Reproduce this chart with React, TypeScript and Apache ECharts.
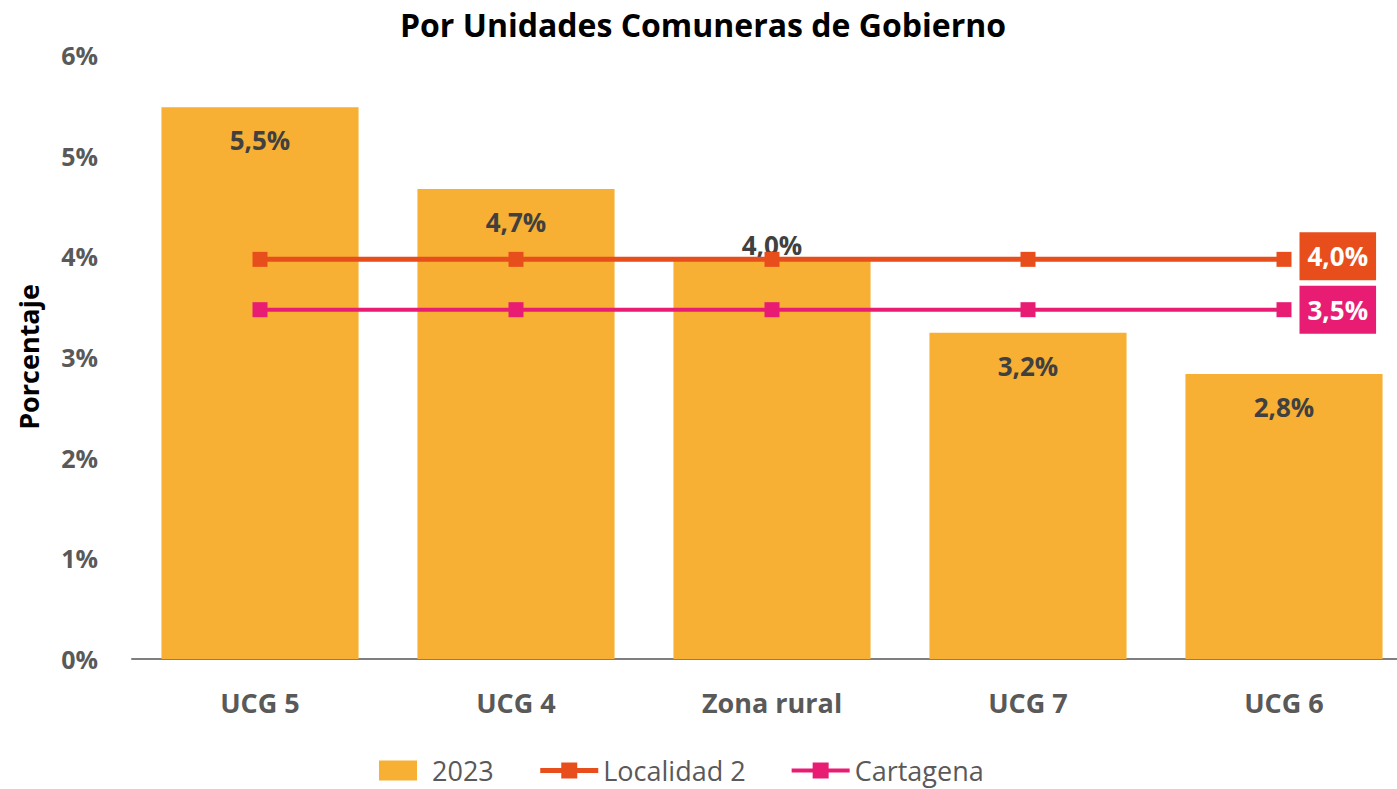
import React, { useEffect, useRef } from "react";
import * as echarts from "echarts";

const categories = ["UCG 5", "UCG 4", "Zona rural", "UCG 7", "UCG 6"];
const values2023 = [5.48, 4.67, 3.98, 3.24, 2.83];
const localidad2 = [3.97, 3.97, 3.97, 3.97, 3.97];
const cartagena = [3.47, 3.47, 3.47, 3.47, 3.47];
const yTicks = [0, 1, 2, 3, 4, 5, 6];

const FONT = "'Open Sans', Inter, sans-serif";
const fmt = (v: number) => v.toFixed(1).replace(".", ",") + "%";

export default function App() {
  const ref = useRef<HTMLDivElement>(null);
  useEffect(() => {
    document.body.style.margin = "0";
    const chart = echarts.init(ref.current!, null, { renderer: "svg" });
    const barData = values2023.map((v, i) =>
      i === 2
        ? { value: v, label: { position: "top", distance: 0 } }
        : { value: v }
    );
    const lineData = (arr: number[], color: string, dy: number) =>
      arr.map((v, i) =>
        i === arr.length - 1
          ? {
              value: v,
              label: {
                show: true,
                position: "right",
                distance: 8,
                offset: [0, dy],
                formatter: (p: any) => fmt(p.value),
                color: "#fff",
                fontFamily: FONT,
                fontWeight: "bold",
                fontSize: 26,
                backgroundColor: color,
                padding: [12, 8, 10, 8],
              },
            }
          : { value: v }
      );
    chart.setOption({
      animation: false,
      title: {
        text: "Por Unidades Comuneras de Gobierno",
        left: 698,
        textAlign: "center",
        top: 3,
        textStyle: { fontFamily: FONT, fontWeight: "bold", fontSize: 32, color: "#000", letterSpacing: 1.5 },
      },
      grid: { left: 132, right: 0, top: 55, bottom: 130 },
      legend: {
        bottom: 0,
        left: 374,
        itemWidth: 58,
        itemHeight: 20,
        itemGap: 44,
        textStyle: { fontFamily: FONT, fontSize: 27, color: "#595959", letterSpacing: 1 },
        data: [
          { name: "2023", icon: "path://M0,0H38V20H0Z" },
          { name: "Localidad 2", lineStyle: { width: 5 } },
          { name: "Cartagena", lineStyle: { width: 4 } },
        ],
      },
      xAxis: {
        type: "category",
        data: categories,
        axisLine: { lineStyle: { color: "#7f7f7f", width: 2 } },
        axisTick: { show: false },
        axisLabel: {
          margin: 30,
          fontFamily: FONT,
          fontWeight: "bold",
          fontSize: 27,
          color: "#595959",
        },
      },
      yAxis: {
        type: "value",
        min: 0,
        max: 6,
        interval: 1,
        name: "Porcentaje",
        nameLocation: "middle",
        nameGap: 90,
        nameTextStyle: { fontFamily: FONT, fontWeight: "bold", fontSize: 27, color: "#000" },
        splitLine: { show: false },
        axisLine: { show: false },
        axisTick: { show: false },
        axisLabel: {
          margin: 34,
          fontFamily: FONT,
          fontWeight: "bold",
          fontSize: 25,
          color: "#595959",
          formatter: (v: number) => (yTicks.includes(v) ? v + "%" : ""),
        },
      },
      series: [
        {
          name: "2023",
          type: "bar",
          data: barData,
          barWidth: "77%",
          itemStyle: { color: "#F7B034" },
          label: {
            show: true,
            position: "insideTop",
            distance: 20,
            formatter: (p: any) => fmt(p.value),
            fontFamily: FONT,
            fontWeight: "bold",
            fontSize: 26,
            color: "#404040",
          },
        },
        {
          name: "Localidad 2",
          type: "line",
          data: lineData(localidad2, "#E84E1C", -3),
          symbol: "rect",
          symbolSize: 15,
          lineStyle: { color: "#E84E1C", width: 5 },
          itemStyle: { color: "#E84E1C" },
          z: 3,
        },
        {
          name: "Cartagena",
          type: "line",
          data: lineData(cartagena, "#E91C74", 0),
          symbol: "rect",
          symbolSize: 15,
          lineStyle: { color: "#E91C74", width: 4 },
          itemStyle: { color: "#E91C74" },
          z: 3,
        },
      ],
    });
    return () => chart.dispose();
  }, []);
  return (
    <div style={{ width: 1397, height: 789, overflow: "hidden" }}>
      <div ref={ref} style={{ width: 1412, height: 789 }} />
    </div>
  );
}
